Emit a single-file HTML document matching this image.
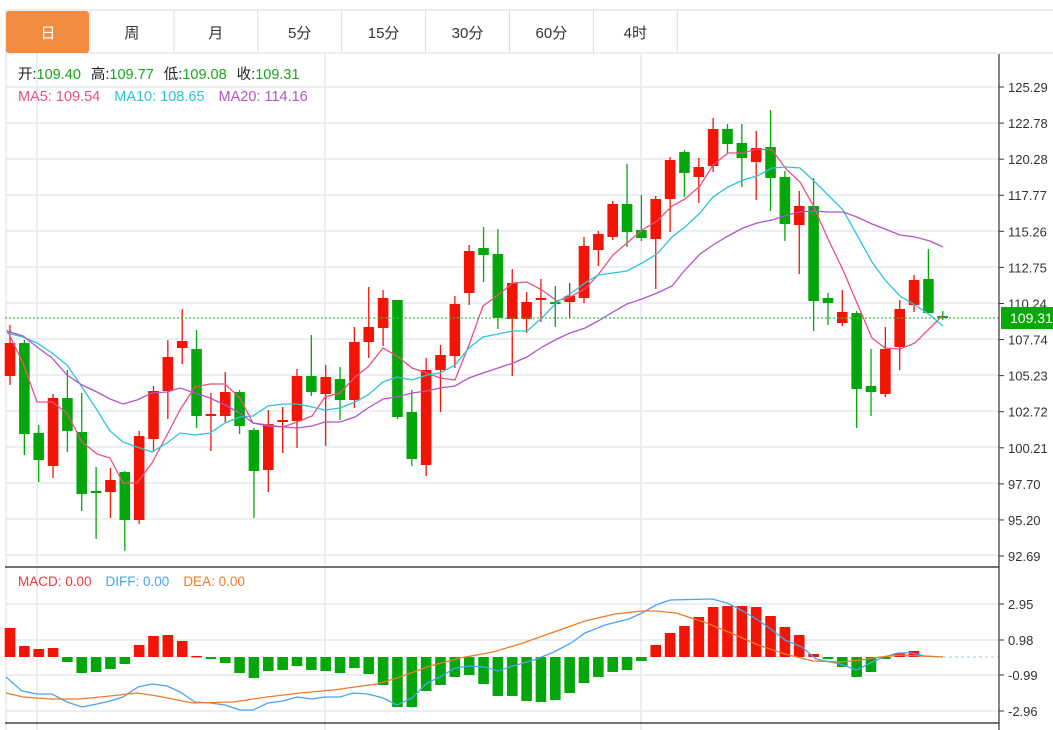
<!DOCTYPE html>
<html><head><meta charset="utf-8"><style>
body{margin:0;background:#fff;width:1053px;height:730px;overflow:hidden;font-family:"Liberation Sans","Noto Sans CJK SC",sans-serif}
svg{position:absolute;left:0;top:0}
</style></head><body>
<svg id="s" width="1053" height="730" xmlns="http://www.w3.org/2000/svg" font-family="Liberation Sans, Noto Sans CJK SC, sans-serif">
<rect width="1053" height="730" fill="#fff"/>
<g id="grid" stroke="#e4eaf1" stroke-width="1.5"></g>
<line x1="5" y1="10" x2="1053" y2="10" stroke="#dcdcdc"/>
<line x1="5" y1="53" x2="1053" y2="53" stroke="#dcdcdc"/>
<line x1="6" y1="10" x2="6" y2="730" stroke="#dcdcdc"/>
<rect x="6" y="11" width="83" height="42" rx="3" fill="#f28c40"/>
<g id="tabs" font-size="15" text-anchor="middle"></g>
<g id="cand"></g>
<g id="lines" fill="none" stroke-width="1.3"></g>
<line x1="5" y1="318" x2="999" y2="318" stroke="#3dbb3d" stroke-dasharray="2,2" stroke-width="1.3"/>
<line x1="5" y1="567" x2="999" y2="567" stroke="#222" stroke-width="1.2"/>
<line x1="5" y1="723" x2="999" y2="723" stroke="#222" stroke-width="1.2"/>
<line x1="999" y1="54" x2="999" y2="730" stroke="#333" stroke-width="1.2"/>
<g id="axis" font-size="13" fill="#333"></g>
<rect x="1001" y="307" width="52" height="22" fill="#0aa70a"/>
<text x="1010" y="323" font-size="14" fill="#fff">109.31</text>
<text x="18" y="79" font-size="14.5"><tspan fill="#222">开:</tspan><tspan fill="#1aa51a">109.40</tspan><tspan fill="#222" dx="10">高:</tspan><tspan fill="#1aa51a">109.77</tspan><tspan fill="#222" dx="10">低:</tspan><tspan fill="#1aa51a">109.08</tspan><tspan fill="#222" dx="10">收:</tspan><tspan fill="#1aa51a">109.31</tspan></text>
<text x="18" y="101" font-size="14.5"><tspan fill="#ec4f80">MA5: 109.54</tspan><tspan fill="#2ec3dc" dx="14">MA10: 108.65</tspan><tspan fill="#b255c8" dx="14">MA20: 114.16</tspan></text>
<text x="18" y="586" font-size="13.5"><tspan fill="#ee3a3a">MACD: 0.00</tspan><tspan fill="#4aa3f0" dx="14">DIFF: 0.00</tspan><tspan fill="#f07a2a" dx="14">DEA: 0.00</tspan></text>
</svg>
<script>
const NS="http://www.w3.org/2000/svg";
function el(p,t,a,txt){const e=document.createElementNS(NS,t);for(const k in a)e.setAttribute(k,a[k]);if(txt)e.textContent=txt;document.getElementById(p).appendChild(e);return e;}
[87,123,159,195,231,267,303,339,375,411,447,483,519,555,604,640,675,711].forEach(y=>el('grid','line',{x1:6,x2:999,y1:y,y2:y}));
[37,325,641].forEach(x=>{el('grid','line',{x1:x,x2:x,y1:54,y2:566});el('grid','line',{x1:x,x2:x,y1:568,y2:730});});
const tabs=["日","周","月","5分","15分","30分","60分","4时"];
tabs.forEach((t,i)=>{const x0=6+i*83.9;el('tabs','text',{x:x0+42,y:38,fill:i==0?'#fff':'#333'},t);el('tabs','line',{x1:x0+84,x2:x0+84,y1:10,y2:53,stroke:'#dcdcdc'});});
const pl=["125.29","122.78","120.28","117.77","115.26","112.75","110.24","107.74","105.23","102.72","100.21","97.70","95.20","92.69"];
pl.forEach((t,i)=>{const y=87+i*36.08;el('axis','line',{x1:999,x2:1004,y1:y,y2:y,stroke:'#333'});el('axis','text',{x:1008,y:y+5},t);});
[["2.95",604],["0.98",640],["-0.99",675],["-2.96",711]].forEach(a=>{el('axis','line',{x1:999,x2:1004,y1:a[1],y2:a[1],stroke:'#333'});el('axis','text',{x:1008,y:a[1]+5},a[0]);});
// c: color(r/g), wickTop, bodyTop, bodyBot, wickBot
const C=[
['r',325,343,376,385],['g',340,343,434,455],['g',425,433,460,482],['r',394,398,466,478],['g',370,398,431,452],
['g',393,432,494,511],['g',467,491,493,539],['r',468,480,492,518],['g',471,472,520,551],['r',431,436,520,524],
['r',386,391,439,452],['r',340,357,391,419],['r',309,341,348,364],['g',330,349,416,428],['r',393,414,416,451],
['r',372,392,416,422],['g',390,392,426,434],['g',428,430,471,518],['r',410,424,470,492],['r',407,420,422,453],
['r',369,376,421,448],['g',335,376,392,396],['r',365,377,394,446],['g',367,379,400,420],['r',327,342,400,408],
['r',287,327,342,358],['r',290,298,328,346],['g',300,300,417,419],['g',390,412,459,466],['r',358,370,465,476],
['r',345,355,370,412],['r',296,304,356,368],['r',245,251,293,305],['g',227,248,255,282],['g',229,254,318,329],
['r',269,283,319,376],['r',292,302,319,333],['r',279,298,300,322],['g',286,302,304,327],['r',283,296,302,318],
['r',237,246,298,303],['r',231,234,250,266],['r',201,204,237,240],['g',164,204,232,247],['g',195,230,238,241],
['r',196,199,239,289],['r',157,160,199,232],['g',150,152,173,197],['r',158,167,177,203],['r',118,129,166,172],
['g',124,129,144,153],['g',124,143,158,187],['r',131,148,162,200],['g',110,147,178,211],['g',171,177,224,241],
['r',191,206,225,274],['g',178,206,301,331],['g',293,298,303,325],['r',290,312,323,326],['g',311,313,389,428],
['g',349,386,392,416],['r',327,349,394,397],['r',300,309,347,370],['r',275,280,305,312],['g',249,279,313,313],['g',311,316,318,320]];
const X=i=>10+i*14.35;
const col={r:'#f21405',g:'#04a70b'};
C.forEach((c,i)=>{const x=X(i);el('cand','line',{x1:x,x2:x,y1:c[1],y2:c[4],stroke:col[c[0]],'stroke-width':1.3});el('cand','rect',{x:x-5.3,y:c[2],width:10.6,height:Math.max(2,c[3]-c[2]),fill:col[c[0]]});});
// MACD bars
const M=[628,646,649,648,662,673,672,669,664,645,636,635,641,656,659,663,673,678,671,670,666,670,671,673,668,674,685,707,707,691,685,677,675,684,696,696,701,702,700,693,683,677,672,670,661,645,633,626,617,607,606,606,607,616,627,635,654,659,667,677,672,659,653,651,657,657];
M.forEach((y,i)=>{if(Math.abs(y-657)<1)return;const x=X(i);const up=y<657;el('cand','rect',{x:x-5.3,y:Math.min(y,657),width:10.6,height:Math.max(1.5,Math.abs(y-657)),fill:up?col.r:col.g});});
el('cand','line',{x1:943,x2:999,y1:657,y2:657,stroke:'#9cc8e8','stroke-dasharray':'3,3'});
function pl2(pts,c){el('lines','polyline',{points:pts,stroke:c});}
pl2("7,330 23,363 37,402 52,402 67,413 82,442 97,454 110,458 123,483 137,483 152,463 167,435 180,410 195,387 210,384 225,384 240,398 253,423 268,425 283,427 297,422 312,416 325,397 340,393 355,377 368,367 383,348 397,356 412,368 427,373 440,378 455,380 469,345 483,306 498,295 513,283 527,282 542,290 557,301 570,297 585,289 598,275 613,255 627,243 642,230 657,221 672,206 685,199 700,186 713,165 728,153 743,153 757,149 772,150 787,170 800,182 813,205 828,239 843,270 857,303 872,338 885,348 900,349 915,343 930,328 943,315","#ec4f80");
pl2("7,333 23,337 37,343 52,353 67,365 82,387 97,410 110,431 123,442 137,447 152,452 167,443 180,433 195,435 210,433 225,423 240,417 253,416 268,406 283,404 297,404 312,407 325,410 340,408 355,402 368,395 383,382 397,377 412,380 427,375 440,373 455,365 469,348 483,337 498,334 513,331 527,331 542,318 557,302 570,294 585,283 598,275 613,273 627,271 642,263 657,254 672,237 685,227 700,213 713,197 728,187 743,180 757,176 772,168 787,167 800,168 813,180 828,195 843,210 857,235 872,262 885,280 900,296 915,305 930,315 943,326","#2ec3dc");
pl2("7,331 23,336 37,347 52,358 67,375 82,385 97,392 110,399 123,404 137,400 152,393 167,392 180,388 195,393 210,398 225,405 240,413 253,423 268,426 283,427 297,428 312,426 325,422 340,422 355,417 368,408 383,399 397,397 412,393 427,391 440,388 455,386 469,378 483,373 498,368 513,363 527,357 542,347 557,339 570,333 585,328 598,321 613,312 627,304 642,299 657,293 672,286 685,270 700,254 713,245 728,236 743,228 757,223 772,220 787,215 800,212 813,211 828,212 843,212 857,217 872,224 885,229 900,235 915,237 930,241 943,247","#b255c8");
pl2("6,677 22,691 37,694 52,694 67,702 82,707 97,704 110,701 123,697 138,687 152,684 167,686 180,692 195,702 210,703 225,705 240,710 253,710 268,703 283,701 297,697 312,699 325,697 340,697 353,693 368,694 383,698 397,705 412,698 427,683 440,677 455,668 470,666 485,667 498,671 513,666 520,664 534,660 554,652 571,643 585,633 605,625 629,619 642,613 656,605 670,600 712,599 727,603 741,610 758,620 772,630 785,640 802,647 816,659 840,664 857,670 870,663 884,657 898,653 911,653 925,656 943,657","#4aa3f0");
pl2("6,693 23,697 50,699 80,699 110,696 137,693 157,696 193,703 233,702 267,697 300,693 333,690 377,684 400,677 430,666 460,658 493,652 520,644 554,632 585,621 615,614 642,611 656,611 676,613 704,622 731,633 758,645 785,654 813,661 840,662 860,660 880,657 901,655 921,656 943,657","#f07a2a");
</script>
</body></html>
